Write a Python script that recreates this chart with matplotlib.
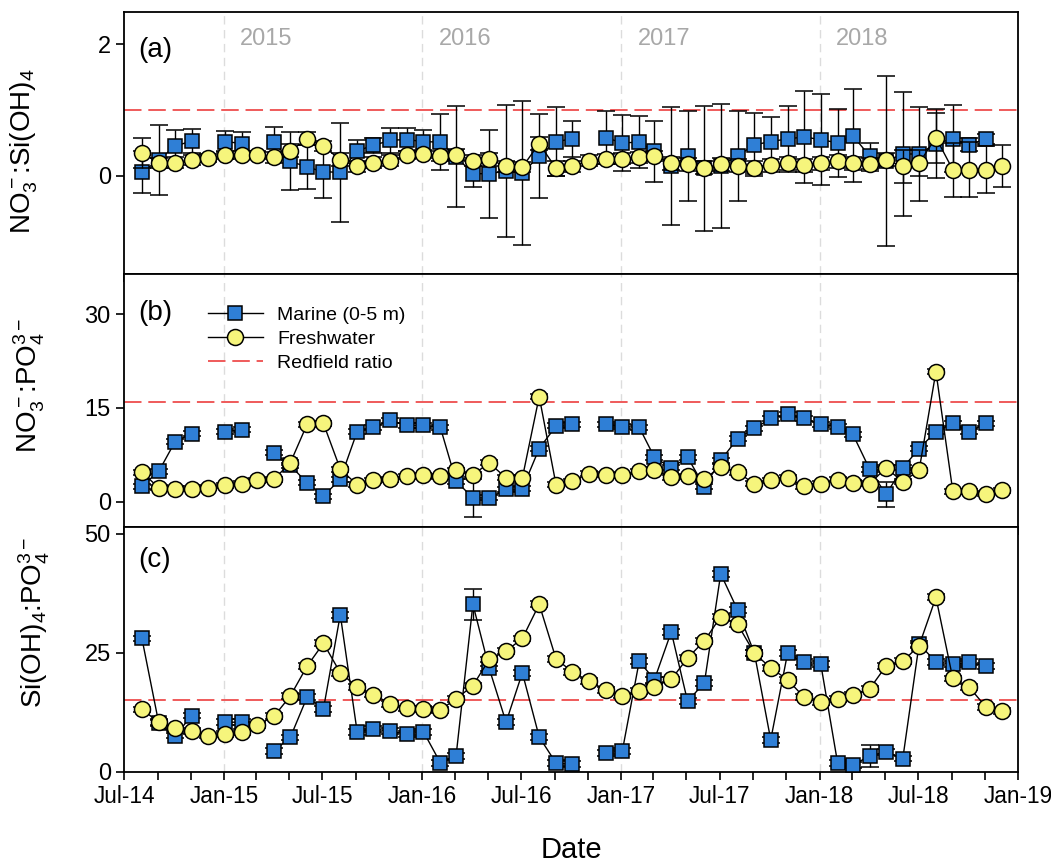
import numpy as np
import pandas as pd
import matplotlib
matplotlib.use("Agg")
import matplotlib.pyplot as plt
import matplotlib.dates as mdates
from matplotlib.lines import Line2D
from datetime import datetime

plt.rcParams["font.family"] = ["Liberation Sans", "DejaVu Sans"]
plt.rcParams["mathtext.fontset"] = "custom"
plt.rcParams["mathtext.rm"] = "Liberation Sans"
plt.rcParams["mathtext.it"] = "Liberation Sans:italic"

nan = np.nan

# monthly sampling, Aug 2014 .. Dec 2018
dates = pd.date_range("2014-08-01", "2018-12-01", freq="MS") + pd.Timedelta(days=2)

# (a) NO3:Si(OH)4
marine_a = [0.05, 0.24, 0.45, 0.53, nan, 0.52, 0.49, nan, 0.51, 0.22,
            0.13, 0.06, 0.05, 0.38, 0.46, 0.54, 0.55, 0.52, 0.51, 0.29,
            0.03, 0.03, 0.07, 0.04, 0.30, 0.52, 0.56, nan, 0.58, 0.50,
            0.51, 0.37, 0.14, 0.30, 0.11, 0.15, 0.30, 0.47, 0.52, 0.56,
            0.59, 0.55, 0.50, 0.61, 0.30, 0.22, 0.33, 0.33, 0.49, 0.56,
            0.47, 0.56, nan]
marine_a_err = [0.32, 0.53, 0.25, 0.18, nan, 0.16, 0.17, nan, 0.23, 0.44,
                0.33, 0.40, 0.75, 0.17, 0.12, 0.19, 0.18, 0.18, 0.43, 0.77,
                0.20, 0.67, 1.00, 1.10, 0.64, 0.52, 0.27, nan, 0.41, 0.43,
                0.40, 0.47, 0.90, 0.69, 0.95, 0.95, 0.69, 0.48, 0.38, 0.50,
                0.70, 0.70, 0.52, 0.71, 0.20, 1.30, 0.94, 0.71, 0.52, 0.51,
                0.10, 0.08, nan]
fresh_a = [0.35, 0.19, 0.20, 0.24, 0.27, 0.32, 0.32, 0.32, 0.28, 0.38,
           0.56, 0.45, 0.24, 0.14, 0.20, 0.23, 0.31, 0.33, 0.30, 0.32,
           0.23, 0.25, 0.14, 0.13, 0.49, 0.11, 0.14, 0.23, 0.25, 0.26,
           0.28, 0.30, 0.19, 0.17, 0.12, 0.17, 0.15, 0.12, 0.16, 0.19,
           0.16, 0.19, 0.22, 0.19, 0.17, 0.24, 0.14, 0.19, 0.58, 0.09,
           0.09, 0.09, 0.14]
fresh_a_err = [0.23, 0.08, 0.08, 0.08, 0.06, 0.06, 0.06, 0.06, 0.08, 0.10,
               0.10, 0.08, 0.10, 0.08, 0.08, 0.08, 0.06, 0.06, 0.08, 0.08,
               0.08, 0.10, 0.08, 0.08, 0.10, 0.12, 0.08, 0.08, 0.08, 0.08,
               0.08, 0.08, 0.10, 0.10, 0.10, 0.10, 0.10, 0.10, 0.10, 0.10,
               0.10, 0.10, 0.10, 0.10, 0.10, 0.10, 0.25, 0.20, 0.38, 0.41,
               0.42, 0.36, 0.32]

# (b) NO3:PO4
marine_b = [2.5, 4.85, 9.6, 10.9, nan, 11.2, 11.5, nan, 7.85, 5.8,
            3.0, 0.9, 3.6, 11.2, 11.9, 13.0, 12.2, 12.2, 11.9, 3.3,
            0.6, 0.6, 1.95, 2.05, 8.5, 12.1, 12.4, nan, 12.4, 12.0,
            11.9, 7.1, 5.4, 7.1, 2.4, 6.6, 10.1, 11.7, 13.3, 14.0,
            13.3, 12.4, 12.0, 10.8, 5.2, 1.16, 5.4, 8.5, 11.2, 12.5,
            11.2, 12.5, nan]
marine_b_err = [0.4] * 20 + [3.1] + [0.4] * 23 + [0.4, 2.0] + [0.4] * 7
fresh_b = [4.74, 2.2, 2.05, 2.1, 2.2, 2.6, 2.9, 3.4, 3.6, 6.2,
           12.4, 12.5, 5.2, 2.7, 3.4, 3.6, 4.1, 4.2, 4.1, 5.0,
           4.3, 6.2, 3.8, 3.8, 16.8, 2.7, 3.3, 4.5, 4.3, 4.2,
           4.85, 5.1, 3.9, 4.1, 3.6, 5.6, 4.7, 2.85, 3.4, 3.8,
           2.5, 2.85, 3.5, 3.0, 2.85, 5.4, 3.2, 5.0, 20.8, 1.7,
           1.7, 1.3, 1.85]
fresh_b_err = [0.4] * 53

# (c) Si(OH)4:PO4
marine_c = [28.0, 10.2, 7.6, 11.8, nan, 10.4, 10.4, nan, 4.4, 7.2,
            15.7, 13.2, 33.0, 8.4, 9.0, 8.5, 7.9, 8.4, 1.9, 3.3,
            35.2, 21.7, 10.4, 20.8, 7.3, 1.8, 1.55, nan, 3.9, 4.4,
            23.2, 19.35, 29.4, 14.8, 18.7, 41.6, 34.0, 24.9, 6.7, 24.9,
            23.0, 22.7, 1.9, 1.4, 3.3, 4.2, 2.75, 26.8, 23.1, 22.6,
            23.0, 22.2, nan]
marine_c_err = [0.6] * 20 + [3.3] + [0.6] * 23 + [2.4] + [0.6] * 8
fresh_c = [13.1, 10.4, 9.1, 8.5, 7.6, 7.9, 8.4, 9.8, 11.65, 15.9,
           22.2, 27.0, 20.8, 17.8, 16.2, 14.3, 13.3, 13.2, 13.0, 15.3,
           18.1, 23.6, 25.35, 28.0, 35.2, 23.7, 21.0, 19.0, 17.2, 16.0,
           16.9, 17.9, 19.4, 23.9, 27.5, 32.6, 31.0, 24.9, 21.8, 19.35,
           15.7, 14.6, 15.3, 16.2, 17.4, 22.2, 23.2, 26.5, 36.65, 19.6,
           17.8, 13.6, 12.7]
fresh_c_err = [0.6] * 53

redfield = [1, 16, 15]
year_labels = ["2015", "2016", "2017", "2018"]

BLUE = "#2f7fd6"
YELLOW = "#f6f57c"
RED = "#ef5a5a"

W, H = 1051, 868
L, R = 124, 1018


def rect(top, bottom):
    return [L / W, 1 - bottom / H, (R - L) / W, (bottom - top) / H]


fig = plt.figure(figsize=(W / 100, H / 100), dpi=100)
ax_a = fig.add_axes(rect(11.7, 274))
ax_b = fig.add_axes(rect(274, 526.7), sharex=ax_a)
ax_c = fig.add_axes(rect(526.7, 771.7), sharex=ax_a)
axes = [ax_a, ax_b, ax_c]

series = [
    (marine_a, marine_a_err, fresh_a, fresh_a_err),
    (marine_b, marine_b_err, fresh_b, fresh_b_err),
    (marine_c, marine_c_err, fresh_c, fresh_c_err),
]

for ax, (m, me, f, fe), rf in zip(axes, series, redfield):
    for yr in range(2015, 2019):
        ax.axvline(datetime(yr, 1, 1), color="#dcdcdc", lw=1.0,
                   ls=(0, (6, 4)), zorder=0)
    ax.axhline(rf, color=RED, lw=1.4, ls=(0, (9, 3.5)), zorder=1)
    ax.errorbar(dates, m, yerr=me, fmt="-s", color="black", mfc=BLUE,
                mec="black", ms=10.5, mew=1.1, lw=1.0, ecolor="black",
                elinewidth=1.0, capsize=6.5, capthick=1.0, zorder=3)
    ax.errorbar(dates, f, yerr=fe, fmt="-o", color="black", mfc=YELLOW,
                mec="black", ms=11.5, mew=1.1, lw=1.0, ecolor="black",
                elinewidth=1.0, capsize=6.5, capthick=1.0, zorder=4)
    for s in ax.spines.values():
        s.set_linewidth(1.3)
    ax.tick_params(axis="both", direction="out", length=6, width=1.2,
                   labelsize=17, top=False, right=False)
    ax.tick_params(axis="x", which="minor", direction="out", length=6, width=1.2)
    ax.tick_params(axis="x", labelsize=16.3)

ax_a.set_ylim(-1.5, 2.5)
ax_a.set_yticks([0, 2])
ax_b.set_ylim(-4, 36.4)
ax_b.set_yticks([0, 15, 30])
ax_c.set_ylim(0, 51.5)
ax_c.set_yticks([0, 25, 50])

ax_c.set_xlim(datetime(2014, 7, 1), datetime(2019, 1, 1))
ax_c.xaxis.set_major_locator(mdates.MonthLocator(bymonth=[1, 7]))
ax_c.xaxis.set_minor_locator(mdates.MonthLocator(bymonth=[3, 5, 9, 11]))
ax_c.xaxis.set_major_formatter(mdates.DateFormatter("%b-%y"))
for ax in (ax_a, ax_b):
    plt.setp(ax.get_xticklabels(), visible=False)

for yr, lab in zip(range(2015, 2019), year_labels):
    ax_a.text(datetime(yr, 1, 31), 2.08, lab, color="#a8a8a8", fontsize=17,
              ha="left", va="center")

ax_a.text(0.016, 0.855, "(a)", transform=ax_a.transAxes, fontsize=20, va="center")
ax_b.text(0.016, 0.846, "(b)", transform=ax_b.transAxes, fontsize=20, va="center")
ax_c.text(0.016, 0.864, "(c)", transform=ax_c.transAxes, fontsize=20, va="center")

ax_a.set_ylabel(r"NO$_3^-$:Si(OH)$_4$", fontsize=20)
ax_b.set_ylabel(r"NO$_3^-$:PO$_4^{3-}$", fontsize=20)
ax_c.set_ylabel(r"Si(OH)$_4$:PO$_4^{3-}$", fontsize=20)
ax_a.yaxis.set_label_coords(-0.094, 0.47)
ax_b.yaxis.set_label_coords(-0.086, 0.56)
ax_c.yaxis.set_label_coords(-0.081, 0.61)

ax_c.set_xlabel("Date", fontsize=21, labelpad=20)

handles = [
    Line2D([], [], color="black", lw=1.0, marker="s", mfc=BLUE, mec="black",
           ms=10.5, mew=1.1),
    Line2D([], [], color="black", lw=1.0, marker="o", mfc=YELLOW, mec="black",
           ms=11.5, mew=1.1),
    Line2D([], [], color=RED, lw=1.4, ls=(0, (9, 3.5))),
]
ax_b.legend(handles, ["Marine (0-5 m)", "Freshwater", "Redfield ratio"],
            loc="upper left", bbox_to_anchor=(0.079, 0.925), frameon=False,
            fontsize=14, handlelength=2.8, labelspacing=0.32,
            handletextpad=0.75, borderpad=0.2)

fig.savefig("out.png", dpi=100)
